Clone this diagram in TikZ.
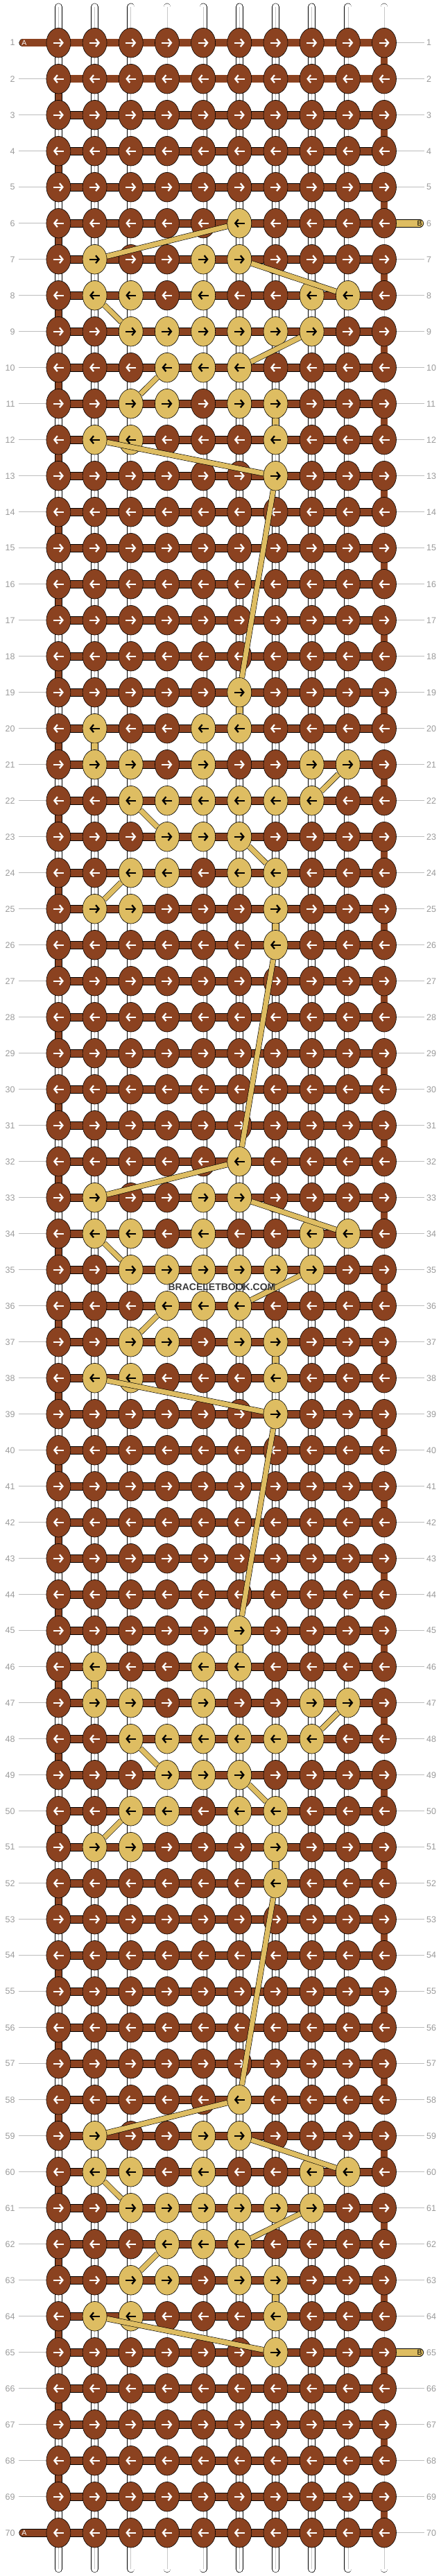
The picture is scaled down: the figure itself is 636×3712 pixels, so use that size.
\documentclass[tikz,border=0pt]{standalone}
\usepackage{fontspec}
\setmainfont{Liberation Sans}
\usetikzlibrary{arrows.meta,positioning,calc,shapes}

\definecolor{knotbrown}{HTML}{8B4220}
\definecolor{knotgold}{HTML}{DEBD62}
\definecolor{rowgray}{HTML}{9A9A9A}
\definecolor{guidegray}{HTML}{BDBDBD}
\definecolor{markgray}{HTML}{3A3A3A}

% gold knots of the repeating motif, 13 rows of 10 knots
\def\motif{{0,0,0,0,0,1,0,0,0,0,
            0,1,0,0,1,1,0,0,0,0,
            0,1,1,0,1,0,0,1,1,0,
            0,0,1,1,1,1,1,1,0,0,
            0,0,0,1,1,1,0,0,0,0,
            0,0,1,1,0,1,1,0,0,0,
            0,1,1,0,0,0,1,0,0,0,
            0,0,0,0,0,0,1,0,0,0,
            0,0,0,0,0,0,0,0,0,0,
            0,0,0,0,0,0,0,0,0,0,
            0,0,0,0,0,0,0,0,0,0,
            0,0,0,0,0,0,0,0,0,0,
            0,0,0,0,0,0,0,0,0,0}}

\tikzset{
  knot/.style={ellipse, draw=black, line width=0.6pt, minimum width=35pt, minimum height=42.6pt, inner sep=0pt},
  knotA/.style={knot, fill=knotbrown},
  knotB/.style={knot, fill=knotgold},
  warp/.style={draw=black, line width=0.6pt, double=white, double distance=9.6pt, line cap=round},
  warpmid/.style={draw=black!22, line width=0.6pt},
  turnA/.style={draw=black, line width=0.6pt, double=knotbrown, double distance=9.6pt},
  weft/.style={draw=black, line width=0.6pt, double=knotbrown, double distance=10.4pt},
  tailB/.style={draw=black, line width=0.6pt, double=knotgold, double distance=10.4pt, line cap=round},
  bline/.style={draw=black, line width=0.6pt, double=knotgold, double distance=7pt},
  bvert/.style={draw=black, line width=0.6pt, double=knotgold, double distance=9.6pt},
  guide/.style={draw=guidegray, line width=0.8pt},
  rowlbl/.style={text=rowgray, inner sep=0pt, font=\fontsize{12.5}{14}\selectfont},
  taillbl/.style={inner sep=0pt, font=\fontsize{10.5}{11}\selectfont},
  knotarr/.style={draw=#1, line width=2.3pt, -{Straight Barb[length=4.5pt,width=11pt]}}
}

\begin{document}
\begin{tikzpicture}[x=1pt,y=-1pt]
\useasboundingbox (0,0) rectangle (636,3712);

\foreach \r in {1,...,70}
  \foreach \c in {1,...,10}
    \coordinate (p-\r-\c) at ({84.4+52.18*(\c-1)}, {61.7+52*(\r-1)});

\foreach \c in {1,...,10} {
  \coordinate[above=51.7pt of p-1-\c] (top-\c);
  \coordinate[below=52pt of p-70-\c] (bot-\c);
  \draw[warp] (top-\c) -- (bot-\c);
  \draw[warpmid] (top-\c) -- (bot-\c);
}

\foreach \r in {1,...,70} {
  \node[rowlbl, anchor=east] (ln-\r) at (21.8, {61.7+52*(\r-1)}) {\r};
  \node[rowlbl, anchor=west] (rn-\r) at (615, {61.7+52*(\r-1)}) {\r};
  \draw[guide] ([xshift=4.7pt]ln-\r.east) -- (p-\r-1);
  \draw[guide] (p-\r-10) -- ([xshift=-3.5pt]rn-\r.west);
}

\foreach \r in {1,...,69} {
  \pgfmathtruncatemacro\n{\r+1}
  \ifodd\r
    \draw[turnA] (p-\r-10) -- (p-\n-10);
  \else
    \draw[turnA] (p-\r-1) -- (p-\n-1);
  \fi
}

\foreach \r in {1,...,70}
  \draw[weft] (p-\r-1) -- (p-\r-10);

\coordinate[left=51.2pt of p-1-1] (tailA-1);
\coordinate[left=51.2pt of p-70-1] (tailA-70);
\coordinate[right=51.2pt of p-6-10] (tailB-6);
\coordinate[right=51.2pt of p-65-10] (tailB-65);
\draw[weft, line cap=round] (tailA-1) -- (p-1-1);
\draw[weft, line cap=round] (tailA-70) -- (p-70-1);
\draw[tailB] (p-6-10) -- (tailB-6);
\draw[tailB] (p-65-10) -- (tailB-65);
\node[taillbl, text=white, right=-2pt of tailA-1] (lblA-1) {A};
\node[taillbl, text=white, right=-2pt of tailA-70] (lblA-70) {A};
\node[taillbl, text=black] (lblB-6) at (tailB-6) {B};
\node[taillbl, text=black] (lblB-65) at (tailB-65) {B};

\foreach \r in {1,...,70} {
  \pgfmathtruncatemacro\k{mod(\r+7,13)}
  \ifodd\r \def\xa{-7.5}\def\xb{7.5}\else \def\xa{7.5}\def\xb{-7.5}\fi
  \foreach \c in {1,...,10} {
    \pgfmathtruncatemacro\g{\motif[\k*10+\c-1]}
    \ifnum\g=1 \def\kst{knotB}\def\ast{black}\else \def\kst{knotA}\def\ast{white}\fi
    \node[\kst] (k-\r-\c) at (p-\r-\c) {};
    \draw[knotarr=\ast] ([xshift=\xa pt]k-\r-\c.center) -- ([xshift=\xb pt]k-\r-\c.center);
  }
}

\foreach \b in {6,32,58}
  \foreach \i/\ca/\j/\cb in {0/6/1/2, 1/6/2/9, 2/2/3/3, 3/8/4/6, 4/4/5/3, 5/7/6/7, 6/2/7/7} {
    \pgfmathtruncatemacro\ra{\b+\i}
    \pgfmathtruncatemacro\rb{\b+\j}
    \ifnum\ca=\cb \def\bst{bvert}\else \def\bst{bline}\fi
    \draw[\bst] (k-\ra-\ca) -- (k-\rb-\cb);
  }
\foreach \b in {19,45}
  \foreach \i/\ca/\j/\cb in {0/6/1/6, 1/2/2/2, 2/9/3/8, 3/3/4/4, 4/6/5/7, 5/3/6/2, 6/7/7/7} {
    \pgfmathtruncatemacro\ra{\b+\i}
    \pgfmathtruncatemacro\rb{\b+\j}
    \ifnum\ca=\cb \def\bst{bvert}\else \def\bst{bline}\fi
    \draw[\bst] (k-\ra-\ca) -- (k-\rb-\cb);
  }
\foreach \ra/\rb in {13/19, 26/32, 39/45, 52/58}
  \draw[bline] (k-\ra-7) -- (k-\rb-6);

\node[text=markgray, inner sep=0pt, font=\bfseries\fontsize{14}{14}\selectfont] (mark) at (320,1855) {BRACELETBOOK.COM};

\end{tikzpicture}
\end{document}
